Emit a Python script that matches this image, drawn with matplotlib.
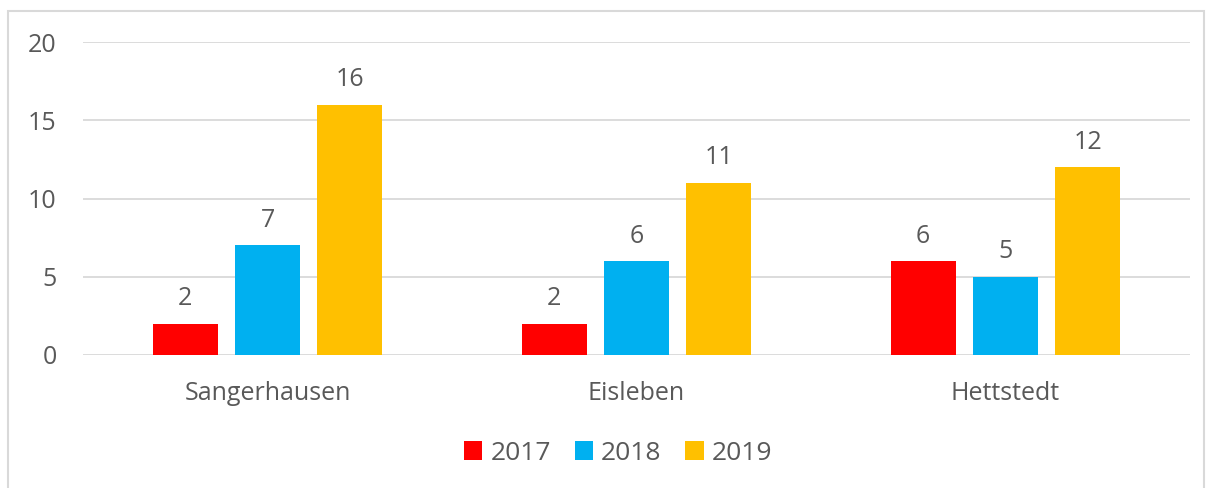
import matplotlib
matplotlib.use('Agg')
import matplotlib.pyplot as plt
from matplotlib.patches import Rectangle
import numpy as np

plt.rcParams['font.family'] = ['Open Sans', 'DejaVu Sans']

regions = ['Sangerhausen', 'Eisleben', 'Hettstedt']
years = ['2017', '2018', '2019']
values_2017 = [2, 2, 6]
values_2018 = [7, 6, 5]
values_2019 = [16, 11, 12]
colors = ['#FF0000', '#00B0F0', '#FFC000']
text_color = '#595959'
grid_color = '#D9D9D9'

fig = plt.figure(figsize=(12.08, 4.88), dpi=100)
# outer chart border
fig.patches.append(Rectangle((8 / 1208, -0.01), 1196 / 1208, 1 - 11 / 488 + 0.01,
                             transform=fig.transFigure, fill=False,
                             edgecolor=grid_color, linewidth=1.5))

ax = fig.add_axes([83 / 1208, 1 - 355 / 488, (1190 - 83) / 1208, (355 - 42) / 488])

x = np.arange(len(regions))
width = 0.177
step = 0.223
for i, (vals, year) in enumerate(zip([values_2017, values_2018, values_2019], years)):
    bars = ax.bar(x + (i - 1) * step, vals, width, color=colors[i], label=year, zorder=3)
    for b, v in zip(bars, vals):
        ax.text(b.get_x() + b.get_width() / 2, v + 0.8, str(v), ha='center', va='bottom',
                fontsize=18, color=text_color)

ax.set_xlim(-0.5, 2.5)
ax.set_ylim(0, 20)
ax.set_yticks([0, 5, 10, 15, 20])
ax.set_xticks(x)
ax.set_xticklabels(regions)
ax.tick_params(axis='both', length=0, labelsize=18, labelcolor=text_color)
ax.tick_params(axis='y', pad=19)
ax.tick_params(axis='x', pad=19)
ax.grid(axis='y', color=grid_color, linewidth=1.3, zorder=0)
for s in ax.spines.values():
    s.set_visible(False)

fig.legend(loc='center', bbox_to_anchor=(618 / 1208, 1 - 453 / 488), ncol=3, frameon=False,
           fontsize=19, labelcolor=text_color, handlelength=0.7, handleheight=0.7,
           handletextpad=0.3, columnspacing=0.9)

fig.savefig('out.png', dpi=100)
